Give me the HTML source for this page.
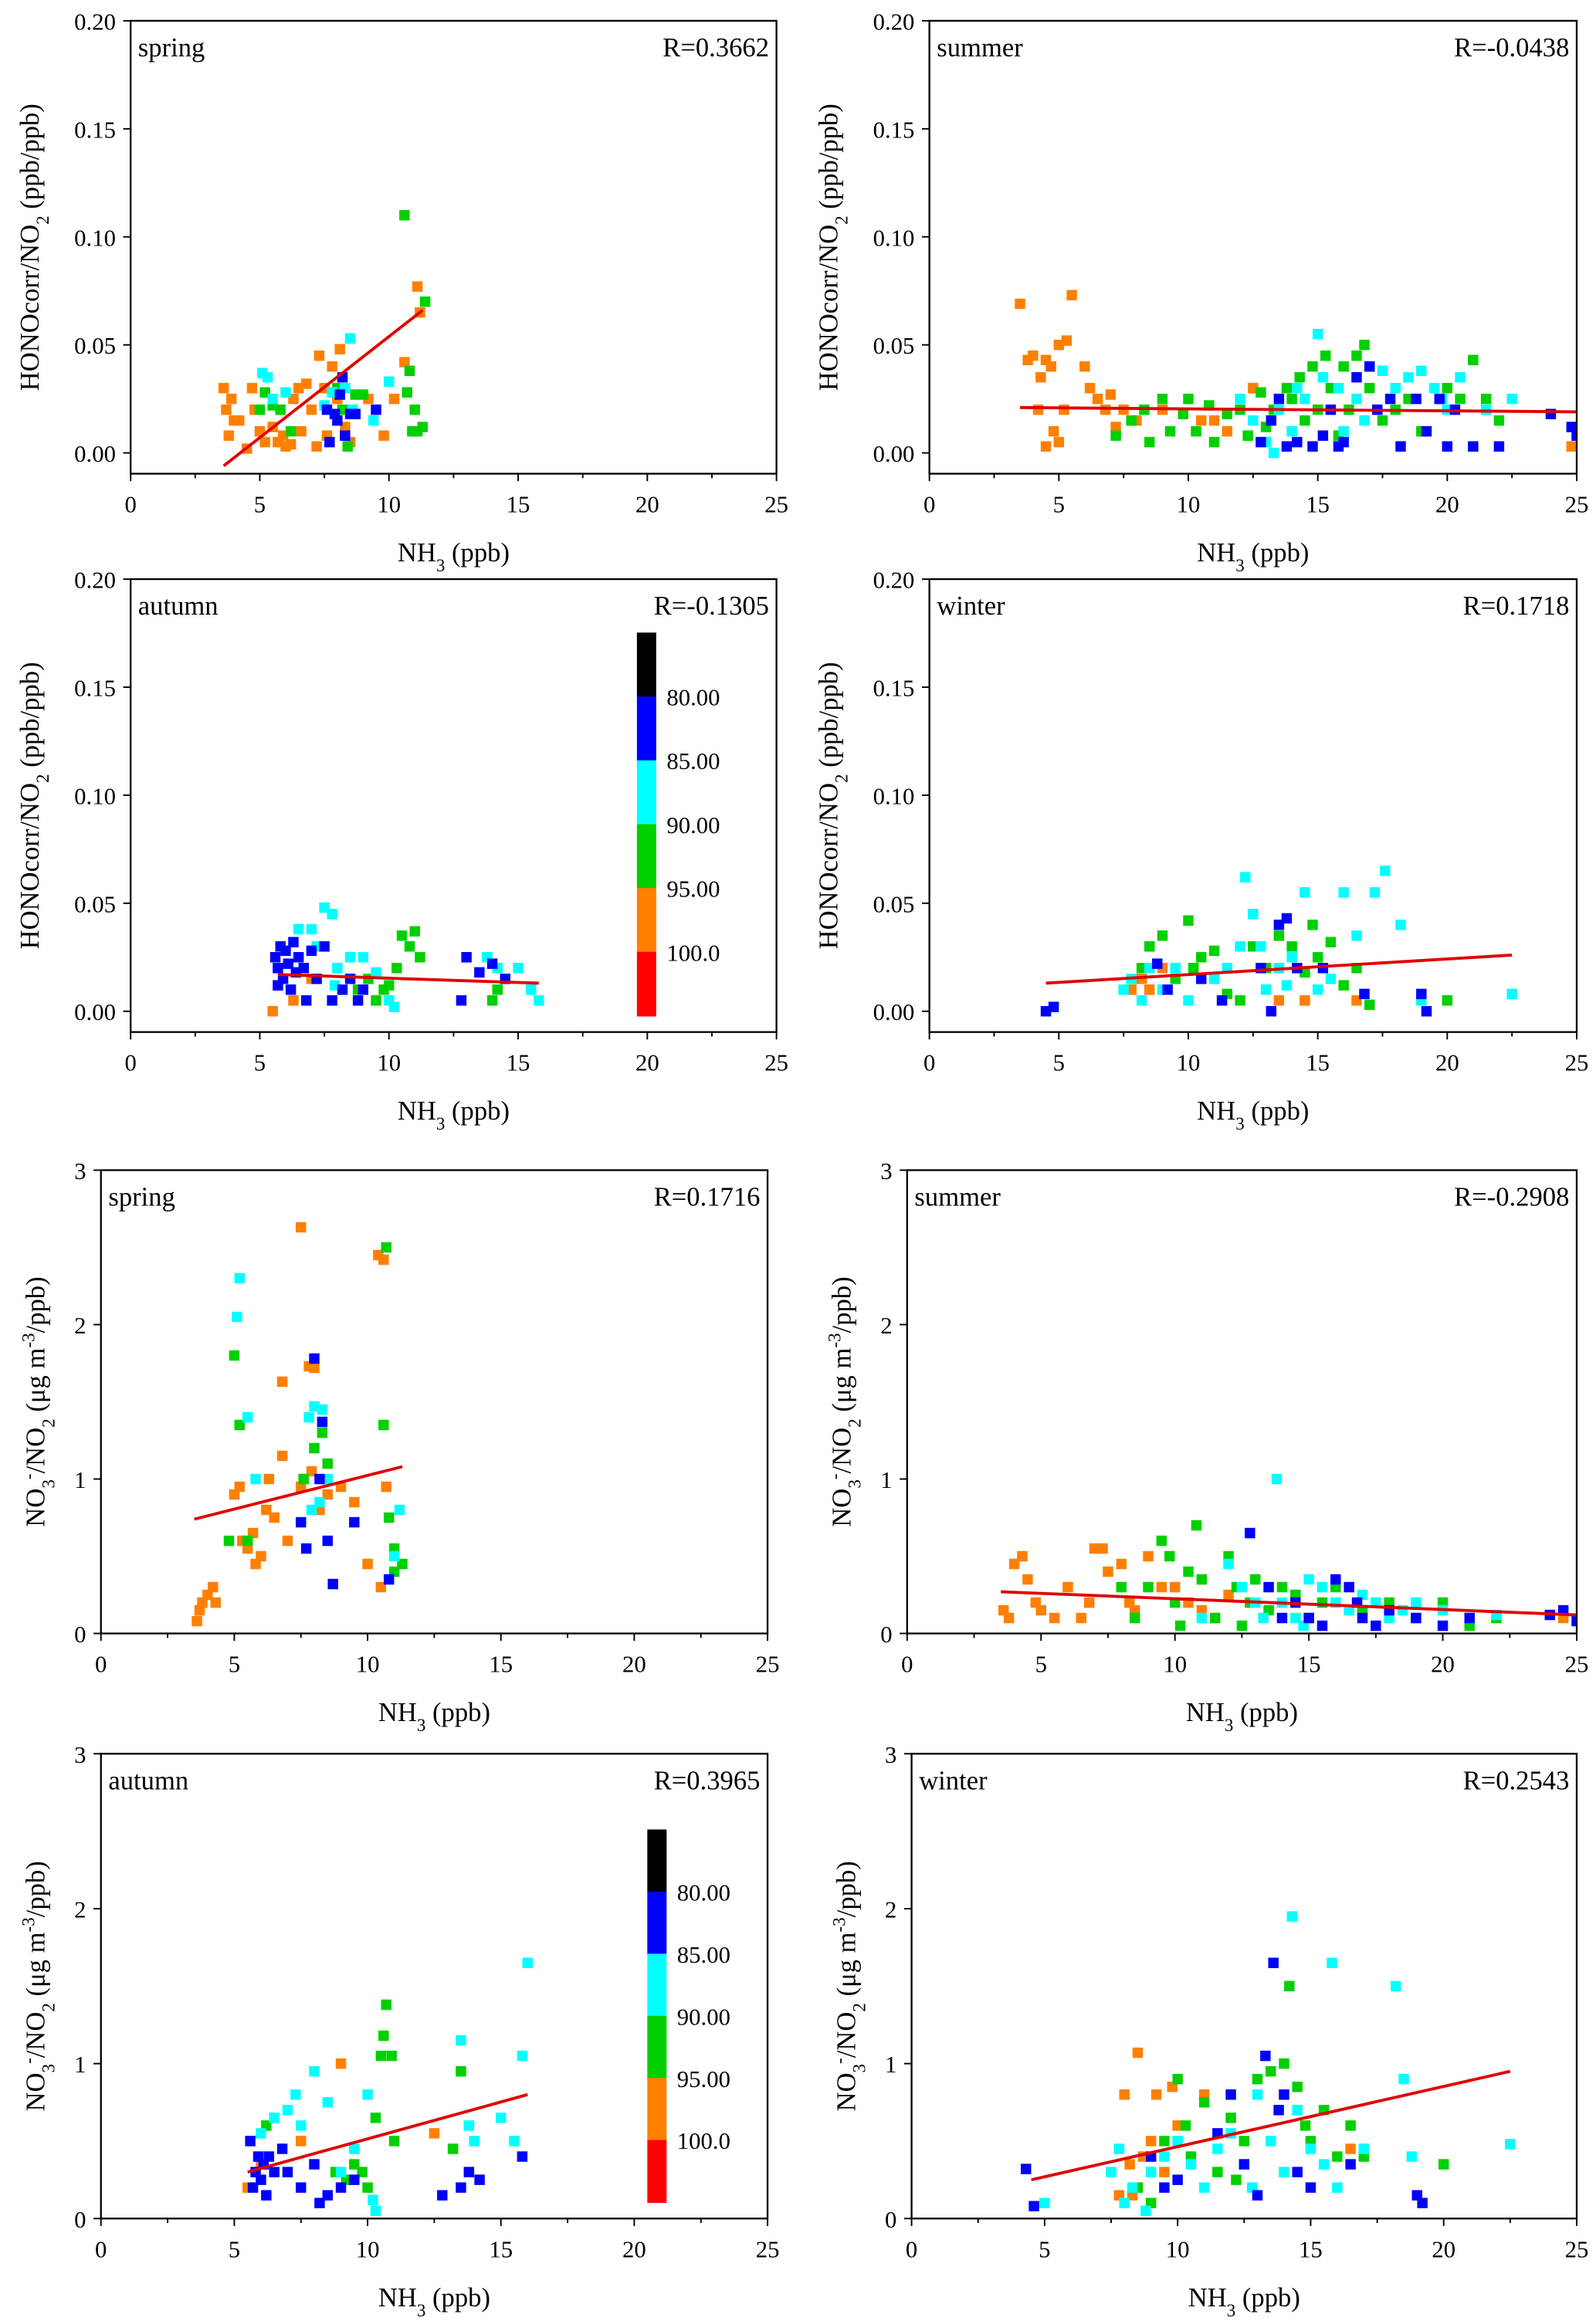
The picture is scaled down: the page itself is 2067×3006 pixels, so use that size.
<!DOCTYPE html>
<html><head><meta charset="utf-8"><style>
html,body{margin:0;padding:0;background:#fff}
svg{display:block;font-family:"Liberation Serif",serif}
</style></head><body>
<svg id="fig" width="2067" height="3006" viewBox="0 0 1075 1563" preserveAspectRatio="none" xmlns="http://www.w3.org/2000/svg"></svg>
<script>
// ---------- data (x = NH3 ppb, y = ratio, c = colour class) ----------
const xTicks=[0,5,10,15,20,25];
const honoTicks=[0,0.05,0.10,0.15,0.20];
const honoTickLabels=["0.00","0.05","0.10","0.15","0.20"];
const no3Ticks=[0,1,2,3];
const no3TickLabels=["0","1","2","3"];
const colorbarLabels=["80.00","85.00","90.00","95.00","100.0"];
const seasons=["spring","summer","autumn","winter","spring","summer","autumn","winter"];
const rLabels=["R=0.3662","R=-0.0438","R=-0.1305","R=0.1718","R=0.1716","R=-0.2908","R=0.3965","R=0.2543"];
const fitLines=[[3.6,-0.006,11.3,0.066],[3.5,0.021,25,0.019],[5.7,0.017,15.8,0.013],[4.5,0.013,22.5,0.026],
[3.5,0.74,11.3,1.08],[3.5,0.27,25,0.12],[5.5,0.3,16,0.8],[4.5,0.25,22.5,0.95]];
// c: o=orange g=green c=cyan b=blue
const p1={o:[[3.6,0.03],[3.7,0.02],[3.8,0.008],[3.9,0.025],[4.0,0.015],[4.2,0.015],[4.5,0.002],[4.8,0.02],[5.0,0.01],[5.2,0.005],[5.5,0.012],[5.7,0.005],[5.8,0.02],[6.0,0.003],[6.2,0.004],[6.3,0.025],[6.5,0.03],[6.8,0.032],[7.0,0.02],[7.2,0.003],[7.3,0.045],[7.5,0.03],[7.8,0.04],[8.0,0.025],[8.1,0.048],[8.3,0.012],[8.5,0.005],[9.2,0.025],[9.8,0.008],[10.2,0.025],[10.6,0.042],[11.1,0.077],[11.2,0.065],[6.6,0.01],[7.6,0.008],[4.7,0.03],[5.9,0.008]],
g:[[5.0,0.02],[5.2,0.028],[5.5,0.022],[5.8,0.02],[6.2,0.01],[8.2,0.02],[8.4,0.003],[8.7,0.027],[9.0,0.027],[10.6,0.11],[10.7,0.028],[10.8,0.038],[11.0,0.02],[11.1,0.01],[11.3,0.012],[11.4,0.07],[10.9,0.01],[8.0,0.03]],
c:[[5.1,0.037],[5.3,0.035],[5.5,0.025],[6.0,0.028],[7.5,0.022],[7.8,0.028],[8.5,0.053],[8.3,0.03],[9.4,0.015],[10.0,0.033],[8.6,0.02]],
b:[[7.7,0.005],[7.9,0.018],[8.0,0.015],[8.1,0.027],[8.2,0.035],[8.3,0.008],[8.5,0.018],[8.7,0.018],[7.6,0.02],[9.5,0.02]]};
const p2={o:[[3.5,0.069],[3.8,0.043],[4.0,0.045],[4.3,0.035],[4.5,0.043],[4.7,0.04],[5.0,0.05],[5.3,0.052],[5.5,0.073],[5.0,0.005],[4.5,0.003],[4.8,0.01],[5.2,0.02],[6.0,0.04],[6.2,0.03],[6.5,0.025],[6.8,0.02],[7.0,0.027],[7.5,0.02],[8.0,0.015],[9.0,0.02],[10.5,0.015],[11.0,0.015],[11.5,0.01],[12.5,0.03],[24.8,0.003],[4.2,0.02],[7.2,0.012]],
g:[[7.2,0.008],[7.8,0.015],[8.3,0.02],[8.5,0.005],[9.0,0.025],[9.3,0.01],[9.8,0.018],[10.0,0.025],[10.3,0.01],[10.8,0.022],[11.0,0.005],[11.5,0.018],[12.0,0.02],[12.3,0.008],[12.8,0.028],[13.0,0.012],[13.3,0.02],[13.8,0.03],[14.0,0.025],[14.3,0.035],[14.5,0.015],[14.8,0.04],[15.0,0.02],[15.3,0.045],[15.5,0.03],[16.0,0.04],[16.2,0.02],[16.5,0.045],[16.8,0.05],[17.0,0.03],[17.5,0.015],[18.0,0.02],[18.5,0.025],[19.0,0.01],[20.0,0.03],[20.5,0.025],[21.0,0.043],[21.5,0.025],[22.0,0.015],[15.8,0.008]],
c:[[12.0,0.025],[12.5,0.015],[13.0,0.005],[13.3,0.0],[13.5,0.02],[14.0,0.01],[14.5,0.025],[15.0,0.055],[15.2,0.035],[15.8,0.03],[16.0,0.01],[16.5,0.025],[17.0,0.04],[17.5,0.038],[18.0,0.03],[18.5,0.035],[19.0,0.038],[19.5,0.03],[19.8,0.025],[20.0,0.02],[20.5,0.035],[21.5,0.02],[22.5,0.025],[14.2,0.03],[16.8,0.015]],
b:[[12.8,0.005],[13.2,0.015],[13.5,0.025],[13.8,0.003],[14.2,0.005],[14.8,0.003],[15.2,0.008],[15.5,0.02],[16.0,0.005],[16.5,0.035],[17.0,0.04],[17.3,0.02],[17.8,0.025],[18.2,0.003],[18.8,0.025],[19.2,0.01],[19.7,0.025],[20.0,0.003],[20.3,0.02],[21.0,0.003],[22.0,0.003],[24.0,0.018],[24.8,0.012],[25.0,0.008],[15.8,0.003]]};
const p3={o:[[5.5,0.0],[6.3,0.005],[7.0,0.015]],
g:[[8.8,0.01],[9.2,0.015],[9.5,0.005],[10.0,0.012],[10.5,0.035],[10.8,0.03],[11.0,0.037],[11.2,0.025],[10.3,0.02],[9.8,0.01],[14.0,0.005],[14.2,0.01]],
c:[[6.5,0.038],[7.0,0.038],[7.5,0.048],[7.8,0.045],[7.2,0.03],[8.0,0.02],[8.5,0.025],[9.0,0.025],[9.5,0.018],[10.0,0.005],[10.2,0.002],[13.8,0.025],[14.2,0.02],[15.0,0.02],[15.5,0.01],[15.8,0.005],[7.9,0.012]],
b:[[5.6,0.025],[5.7,0.02],[5.8,0.03],[5.9,0.015],[6.0,0.028],[6.1,0.022],[6.2,0.01],[6.3,0.032],[6.4,0.018],[5.7,0.012],[6.5,0.025],[6.7,0.02],[7.0,0.028],[7.2,0.015],[7.5,0.03],[7.8,0.005],[8.2,0.01],[8.5,0.015],[8.8,0.005],[9.0,0.01],[13.0,0.025],[13.5,0.018],[14.0,0.022],[14.5,0.015],[12.8,0.005],[6.8,0.005]]};
const p4={o:[[7.8,0.01],[8.2,0.015],[8.5,0.01],[9.0,0.02],[13.5,0.005],[14.5,0.005],[16.5,0.005]],
g:[[8.5,0.03],[9.0,0.035],[9.5,0.015],[10.0,0.042],[10.5,0.025],[11.0,0.028],[11.5,0.008],[12.0,0.005],[12.5,0.03],[13.0,0.02],[13.5,0.035],[14.0,0.03],[14.5,0.018],[14.8,0.04],[15.0,0.025],[15.5,0.032],[16.0,0.012],[16.5,0.02],[17.0,0.003],[20.0,0.005],[10.2,0.02],[8.2,0.02]],
c:[[7.5,0.01],[7.8,0.015],[8.2,0.005],[8.5,0.02],[9.0,0.01],[10.0,0.005],[11.5,0.02],[12.0,0.03],[12.2,0.062],[12.5,0.045],[13.0,0.01],[13.5,0.02],[14.0,0.025],[14.5,0.055],[15.0,0.01],[15.5,0.015],[16.0,0.055],[16.5,0.035],[17.2,0.055],[17.6,0.065],[18.2,0.04],[19.0,0.005],[22.5,0.008],[13.8,0.012],[11.0,0.015],[12.8,0.03],[9.5,0.02]],
b:[[4.5,0.0],[4.8,0.002],[8.8,0.022],[9.2,0.01],[10.5,0.015],[12.8,0.02],[13.2,0.0],[13.5,0.04],[13.8,0.043],[14.2,0.02],[15.2,0.02],[16.8,0.008],[19.0,0.008],[19.2,0.0],[11.3,0.005]]};
const p5={o:[[3.6,0.08],[3.7,0.15],[3.8,0.2],[4.0,0.25],[4.2,0.3],[4.3,0.2],[5.0,0.9],[5.2,0.95],[5.3,0.6],[5.5,0.55],[5.7,0.65],[6.0,0.5],[6.2,0.8],[6.5,0.75],[6.8,1.63],[6.8,1.15],[7.0,0.6],[7.5,2.63],[7.5,0.95],[7.8,1.73],[8.0,1.72],[7.9,1.05],[8.5,0.9],[9.0,0.95],[9.5,0.85],[10.0,0.45],[10.4,2.45],[10.6,2.42],[10.7,0.95],[10.5,0.3],[8.2,0.8],[6.3,1.0],[5.8,0.45]],
g:[[5.0,1.8],[5.2,1.35],[4.8,0.6],[5.5,0.6],[7.6,1.0],[8.3,1.3],[8.0,1.2],[8.5,1.1],[10.6,1.35],[10.7,2.5],[11.0,0.55],[11.3,0.45],[11.0,0.4],[10.8,0.75]],
c:[[5.2,2.3],[5.1,2.05],[5.5,1.4],[5.8,1.0],[7.8,1.4],[8.0,1.47],[8.3,1.45],[8.2,0.85],[8.5,1.0],[11.2,0.8],[7.9,0.8],[11.0,0.5]],
b:[[7.5,0.72],[7.7,0.55],[8.0,1.78],[8.3,1.37],[8.5,0.6],[8.7,0.32],[9.5,0.72],[10.8,0.35],[8.2,1.0]]};
const p6={o:[[3.8,0.1],[4.0,0.45],[4.3,0.5],[4.5,0.35],[4.8,0.2],[5.0,0.15],[5.5,0.1],[6.0,0.3],[6.5,0.1],[7.0,0.55],[7.3,0.55],[7.5,0.4],[8.0,0.45],[8.3,0.2],[8.5,0.15],[9.0,0.5],[9.5,0.3],[10.0,0.3],[10.5,0.2],[11.0,0.15],[11.5,0.1],[12.0,0.25],[3.6,0.15],[6.8,0.2],[24.5,0.1]],
g:[[8.0,0.3],[8.5,0.1],[9.0,0.3],[9.5,0.6],[9.8,0.5],[10.0,0.2],[10.5,0.4],[10.8,0.7],[11.0,0.35],[11.5,0.1],[12.0,0.5],[12.3,0.3],[12.8,0.2],[13.0,0.35],[13.5,0.15],[14.0,0.3],[14.5,0.25],[15.0,0.1],[15.5,0.2],[16.0,0.3],[17.0,0.15],[18.0,0.2],[19.0,0.1],[20.0,0.2],[21.0,0.05],[22.0,0.1],[12.5,0.05],[10.2,0.05]],
c:[[11.0,0.1],[12.0,0.45],[12.5,0.3],[13.0,0.2],[13.3,0.1],[13.8,1.0],[14.0,0.2],[14.5,0.1],[15.0,0.35],[15.5,0.3],[16.0,0.2],[16.5,0.15],[17.0,0.25],[17.5,0.2],[18.0,0.1],[18.5,0.15],[19.0,0.2],[20.0,0.15],[21.0,0.1],[22.0,0.12],[14.8,0.05]],
b:[[12.8,0.65],[13.5,0.3],[14.0,0.1],[14.5,0.2],[15.0,0.1],[15.5,0.05],[16.0,0.35],[16.5,0.3],[17.0,0.1],[17.5,0.05],[18.0,0.15],[19.0,0.1],[20.0,0.05],[21.0,0.1],[24.0,0.12],[24.5,0.15],[25.0,0.08],[16.8,0.2]]};
const p7={o:[[5.5,0.2],[6.0,0.35],[9.0,1.0],[12.5,0.55],[7.5,0.5]],
g:[[6.2,0.6],[8.8,0.3],[9.2,0.25],[9.8,0.3],[10.0,0.2],[10.3,0.65],[10.5,1.05],[10.6,1.18],[10.7,1.38],[10.9,1.05],[11.0,0.5],[13.5,0.95],[13.2,0.45],[9.5,0.35]],
c:[[6.0,0.55],[6.5,0.65],[7.0,0.7],[7.5,0.6],[8.0,0.95],[8.5,0.75],[9.0,0.3],[9.5,0.45],[10.0,0.8],[10.2,0.12],[10.3,0.05],[13.5,1.15],[13.8,0.6],[14.0,0.5],[15.0,0.65],[15.5,0.5],[15.8,1.05],[16.0,1.65],[7.3,0.8]],
b:[[5.6,0.5],[5.7,0.2],[5.8,0.3],[5.9,0.4],[6.0,0.25],[6.1,0.35],[6.2,0.15],[6.3,0.4],[6.5,0.3],[7.0,0.3],[7.5,0.2],[8.0,0.35],[8.5,0.15],[9.0,0.2],[9.5,0.25],[12.8,0.15],[13.5,0.2],[13.8,0.3],[14.2,0.25],[15.8,0.4],[6.8,0.45],[8.2,0.1]]};
const p8={o:[[7.8,0.15],[8.0,0.8],[8.2,0.35],[8.5,1.07],[8.7,0.4],[9.0,0.5],[9.2,0.8],[9.5,0.3],[10.0,0.6],[8.3,0.15],[9.8,0.85],[16.5,0.45],[11.0,0.8]],
g:[[8.5,0.2],[9.0,0.1],[9.5,0.5],[10.0,0.9],[10.3,0.6],[10.5,0.4],[11.0,0.75],[11.5,0.3],[12.0,0.65],[12.5,0.5],[13.0,0.9],[13.5,0.95],[14.0,1.0],[14.2,1.5],[14.5,0.85],[14.8,0.6],[15.0,0.5],[15.5,0.7],[16.0,0.4],[16.5,0.6],[17.0,0.4],[20.0,0.35],[12.2,0.25]],
c:[[7.5,0.3],[7.8,0.45],[8.0,0.1],[8.3,0.2],[8.8,0.05],[9.0,0.3],[9.5,0.4],[10.0,0.5],[10.5,0.35],[11.0,0.2],[11.5,0.45],[12.0,0.55],[12.5,0.35],[13.0,0.8],[13.5,0.5],[14.0,0.3],[14.3,1.95],[14.5,0.7],[15.0,0.45],[15.5,0.35],[15.8,1.65],[16.0,0.2],[17.0,0.45],[18.2,1.5],[18.5,0.9],[18.8,0.4],[22.5,0.48],[5.0,0.1],[12.8,0.2]],
b:[[4.3,0.32],[4.6,0.08],[9.0,0.4],[9.5,0.2],[10.0,0.25],[11.5,0.55],[12.0,0.8],[12.5,0.35],[13.0,0.15],[13.3,1.05],[13.6,1.65],[14.0,0.8],[14.5,0.3],[15.0,0.2],[16.5,0.35],[19.0,0.15],[19.2,0.1],[13.8,0.7]]};
const panelData=[p1,p2,p3,p4,p5,p6,p7,p8];

// ---------- layout ----------
const COL={o:"#ff7f00",g:"#00d000",c:"#00ffff",b:"#0000ff"};
const boxes=[
 {x0:88,x1:523,y0:14,y1:319,yb:305,yt:14,ymin:0,ymax:0.2,hono:true,tx:20},
 {x0:626,x1:1062,y0:14,y1:319,yb:305,yt:14,ymin:0,ymax:0.2,hono:true,tx:558},
 {x0:88,x1:523,y0:390,y1:695,yb:681,yt:390,ymin:0,ymax:0.2,hono:true,tx:20},
 {x0:626,x1:1062,y0:390,y1:695,yb:681,yt:390,ymin:0,ymax:0.2,hono:true,tx:558},
 {x0:68,x1:517,y0:788,y1:1100,yb:1100,yt:788,ymin:0,ymax:3,hono:false,tx:24},
 {x0:611,x1:1062,y0:788,y1:1100,yb:1100,yt:788,ymin:0,ymax:3,hono:false,tx:567},
 {x0:68,x1:517,y0:1181,y1:1494,yb:1494,yt:1181,ymin:0,ymax:3,hono:false,tx:24},
 {x0:614,x1:1062,y0:1181,y1:1494,yb:1494,yt:1181,ymin:0,ymax:3,hono:false,tx:570}];
const svg=document.getElementById('fig');
const NS="http://www.w3.org/2000/svg";
function mk(tag,attrs,parent){const e=document.createElementNS(NS,tag);for(const k in attrs)e.setAttribute(k,attrs[k]);(parent||svg).appendChild(e);return e;}

boxes.forEach((b,i)=>{
  const g=mk('g',{});
  
  
  const sx=v=>b.x0+(v-0)/25*(b.x1-b.x0);
  const sy=v=>b.yb-(v-b.ymin)/(b.ymax-b.ymin)*(b.yb-b.yt);
  // clip
  const cp=mk('clipPath',{id:'cp'+i},g);
  mk('rect',{x:b.x0,y:b.y0,width:b.x1-b.x0,height:b.y1-b.y0},cp);
  // points
  const pg=mk('g',{'clip-path':'url(#cp'+i+')'},g);
  const d=panelData[i];
  ['o','g','c','b'].forEach(k=>{
    d[k].forEach(p=>{
      const r=mk('rect',{x:sx(p[0])-3.5,y:sy(p[1])-3.5,width:7,height:7,fill:COL[k]},pg);
      
      
    });
  });
  const f=fitLines[i];
  const ln=mk('line',{x1:sx(f[0]),y1:sy(f[1]),x2:sx(f[2]),y2:sy(f[3]),stroke:'#e00000','stroke-width':2},pg);
  
  
  // frame
  const fr=mk('rect',{x:b.x0,y:b.y0,width:b.x1-b.x0,height:b.y1-b.y0,fill:'none',stroke:'#000','stroke-width':1.2},g);
  
  
  // x ticks
  xTicks.forEach(t=>{
    const x=sx(t);
    mk('line',{x1:x,y1:b.y1,x2:x,y2:b.y1+5,stroke:'#000'},g);
    const tx=mk('text',{x:x,y:b.y1+26,'text-anchor':'middle','font-size':16},g);
    tx.textContent=t;
    
    
  });
  for(let t=2.5;t<25;t+=5){const x=sx(t);mk('line',{x1:x,y1:b.y1,x2:x,y2:b.y1+3,stroke:'#000'},g);}
  // y ticks
  const yt=b.hono?honoTicks:no3Ticks, yl=b.hono?honoTickLabels:no3TickLabels;
  yt.forEach((t,j)=>{
    const y=sy(t);
    mk('line',{x1:b.x0-5,y1:y,x2:b.x0,y2:y,stroke:'#000'},g);
    const tx=mk('text',{x:b.x0-10,y:y+6,'text-anchor':'end','font-size':16},g);
    tx.textContent=yl[j];
    
    
  });
  // x title
  const xt=mk('text',{x:(b.x0+b.x1)/2,y:b.y1+59,'text-anchor':'middle','font-size':18},g);
  xt.innerHTML='NH<tspan baseline-shift="sub" font-size="12">3</tspan> (ppb)';
  
  
  // y title
  const cy=(b.y0+b.y1)/2;
  const yT=mk('text',{x:b.tx,y:cy,'text-anchor':'middle','font-size':18,transform:'rotate(-90 '+b.tx+' '+cy+')',dy:6},g);
  if(b.hono) yT.innerHTML='HONOcorr/NO<tspan baseline-shift="sub" font-size="12">2</tspan> (ppb/ppb)';
  else yT.innerHTML='NO<tspan baseline-shift="sub" font-size="12">3</tspan><tspan baseline-shift="super" font-size="12">-</tspan>/NO<tspan baseline-shift="sub" font-size="12">2</tspan> (μg m<tspan baseline-shift="super" font-size="12">-3</tspan>/ppb)';
  
  
  // season + R labels
  const sl=mk('text',{x:b.x0+5,y:b.y0+24,'font-size':18},g);
  sl.textContent=seasons[i];
  
  
  const rl=mk('text',{x:b.x1-5,y:b.y0+24,'text-anchor':'end','font-size':18},g);
  rl.textContent=rLabels[i];
  
  
});

// colour bars
const cbColors=["#000000","#0000ff","#00ffff","#00d000","#ff7f00","#ff0000"];
[{x:429,y0:426,y1:684},{x:436,y0:1232,y1:1483}].forEach(cb=>{
  const g=mk('g',{});
  
  
  const h=(cb.y1-cb.y0)/6;
  cbColors.forEach((c,j)=>{mk('rect',{x:cb.x,y:cb.y0+j*h,width:13,height:h+0.5,fill:c},g);});
  colorbarLabels.forEach((l,j)=>{
    const t=mk('text',{x:cb.x+20,y:cb.y0+(j+1)*h+6,'font-size':16},g);
    t.textContent=l;
    
    
  });
});
</script>
</body></html>
